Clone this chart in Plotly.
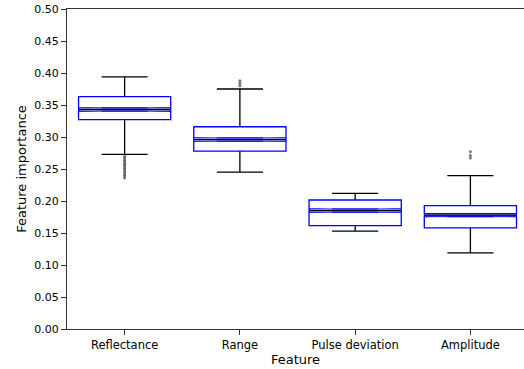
import plotly.graph_objects as go

features = ["Reflectance", "Range", "Pulse deviation", "Amplitude"]
q1 = [0.327, 0.278, 0.1615, 0.158]
median = [0.343, 0.296, 0.185, 0.178]
q3 = [0.363, 0.316, 0.2016, 0.1927]
lower_whisker = [0.273, 0.245, 0.153, 0.119]
upper_whisker = [0.394, 0.375, 0.212, 0.2396]
notch_half = [0.0025, 0.0025, 0.0025, 0.0025]

outlier_x = (["Reflectance"] * 14 + ["Range"] * 3 + ["Amplitude"] * 3)
outlier_y = [0.270, 0.267, 0.264, 0.262, 0.259, 0.257, 0.255, 0.252,
             0.250, 0.247, 0.244, 0.241, 0.239, 0.236,
             0.388, 0.384, 0.380,
             0.277, 0.271, 0.267]

notch_lo = [m - n for m, n in zip(median, notch_half)]
notch_hi = [m + n for m, n in zip(median, notch_half)]

common = dict(x=features, width=0.8, whiskerwidth=0.5, boxpoints=False,
              showlegend=False)

fig = go.Figure()
# whiskers + caps (black)
fig.add_trace(go.Box(
    q1=median, median=median, q3=median,
    lowerfence=lower_whisker, upperfence=upper_whisker,
    line=dict(color="black", width=1.3), fillcolor="rgba(0,0,0,0)",
    hoverinfo="skip", **common))
# notched box (blue)
fig.add_trace(go.Box(
    q1=q1, median=median, q3=q3, lowerfence=q1, upperfence=q3,
    notched=True, notchspan=notch_half, notchwidth=0.5,
    line=dict(color="#0000ff", width=1.3), fillcolor="white", **common))
# notch band edges (blue)
fig.add_trace(go.Box(
    q1=notch_lo, median=median, q3=notch_hi,
    lowerfence=notch_lo, upperfence=notch_hi,
    line=dict(color="#0000ff", width=1.0), fillcolor="white",
    hoverinfo="skip", **common))
# median line (black)
fig.add_trace(go.Box(
    q1=median, median=median, q3=median,
    lowerfence=median, upperfence=median,
    line=dict(color="black", width=1.3), fillcolor="rgba(0,0,0,0)",
    hoverinfo="skip", **common))
# outliers
fig.add_trace(go.Scatter(
    x=outlier_x, y=outlier_y, mode="markers",
    marker=dict(color="#555555", size=3, opacity=0.8),
    showlegend=False))

fig.update_layout(
    width=524, height=369,
    margin=dict(l=67, r=0, t=9, b=40),
    paper_bgcolor="white", plot_bgcolor="white",
    boxmode="overlay",
    font=dict(family="DejaVu Sans", color="black", size=11),
)
fig.update_xaxes(
    type="category", range=[-0.5, 3.465], automargin=False,
    showline=True, linecolor="#333333", linewidth=1.2, mirror=True,
    ticks="outside", ticklen=5, tickcolor="#333333",
    showgrid=False, zeroline=False,
    title=dict(text="Feature", font=dict(size=13), standoff=2),
    tickfont=dict(size=11.5),
)
fig.update_yaxes(
    range=[0, 0.5], dtick=0.05, tickformat=".2f", automargin=False,
    showline=True, linecolor="#333333", linewidth=1.2, mirror=False,
    ticks="outside", ticklen=5, tickcolor="#333333",
    showgrid=False, zeroline=False,
    title=dict(text="Feature importance", font=dict(size=13), standoff=4),
    tickfont=dict(size=11),
)

fig.write_html(
    "out.html",
    config={"displayModeBar": False},
    post_script="document.body.style.margin='0';"
                "document.body.style.overflow='hidden';",
)
